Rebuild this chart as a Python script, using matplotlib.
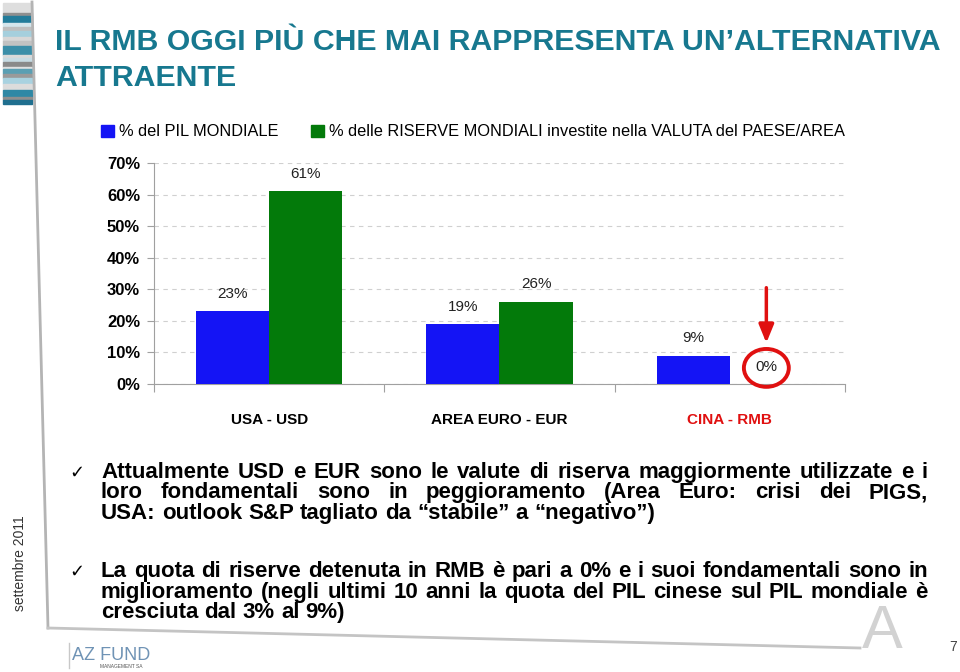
import matplotlib
matplotlib.use("Agg")
import matplotlib.pyplot as plt
from matplotlib.patches import Rectangle, Ellipse, Patch
from matplotlib.lines import Line2D
import numpy as np

# dati del grafico
categorie = ["USA - USD", "AREA EURO - EUR", "CINA - RMB"]
pil_mondiale = [23, 19, 9]
riserve_mondiali = [61, 26, 0]
etichette_y = ["0%", "10%", "20%", "30%", "40%", "50%", "60%", "70%"]
legenda = ["% del PIL MONDIALE",
           "% delle RISERVE MONDIALI investite nella VALUTA del PAESE/AREA"]

titolo = ["IL RMB OGGI PIÙ CHE MAI RAPPRESENTA UN\u2019ALTERNATIVA", "ATTRAENTE"]
punto1 = ["Attualmente USD e EUR sono le valute di riserva maggiormente utilizzate e i",
          "loro fondamentali sono in peggioramento (Area Euro: crisi dei PIGS,",
          "USA: outlook S&P tagliato da \u201cstabile\u201d a \u201cnegativo\u201d)"]
punto2 = ["La quota di riserve detenuta in RMB è pari a 0% e i suoi fondamentali sono in",
          "miglioramento (negli ultimi 10 anni la quota del PIL cinese sul PIL mondiale è",
          "cresciuta dal 3% al 9%)"]

W, H = 960, 672
BLU = "#1414f5"
VERDE = "#037a0a"
ROSSO = "#e01010"
TEAL = "#17788f"
TITLE_FONT = ["Liberation Sans Narrow", "Liberation Sans", "DejaVu Sans"]
FONT = ["Liberation Sans", "DejaVu Sans"]


def fx(px):
    return px / W


def fy(py):
    return 1 - py / H


fig = plt.figure(figsize=(9.6, 6.72), dpi=100)
fig.patch.set_facecolor("white")

# decorazione a strisce in alto a sinistra
strisce = [(3, 13, '#dedede'), (13, 16, '#8f8f8f'), (16, 23, '#237c9a'), (23, 27, '#d5e6ec'),
           (27, 31, '#bfbfbf'), (31, 37, '#a5cfdd'), (37, 41, '#d7d7d7'), (41, 46, '#c2c2c2'),
           (46, 55, '#3b8ea8'), (55, 58, '#d9d9d9'), (58, 62, '#c7dbe3'), (62, 67, '#8a8a8a'),
           (67, 69, '#e0e0e0'), (69, 74, '#5b9fb3'), (74, 78, '#9a9a9a'), (78, 84, '#a9d2e0'),
           (84, 90, '#dcdcdc'), (90, 97, '#2f88a5'), (97, 100, '#8f8f8f'), (100, 104, '#1f6f8f')]
for y0, y1, c in strisce:
    fig.patches.append(Rectangle((fx(3), fy(y1)), fx(29), (y1 - y0) / H,
                                 transform=fig.transFigure, color=c, zorder=0))
fig.add_artist(Line2D([fx(32), fx(48)], [fy(2), fy(628)], color="#b4b4b4", lw=2))
fig.add_artist(Line2D([fx(48), fx(860)], [fy(628), fy(648)], color="#c4c4c4", lw=2))

# titolo
for i, riga in enumerate(titolo):
    fig.text(fx(55), fy(42 + 36 * i), riga, family=TITLE_FONT, weight="bold",
             fontsize=21.8, color=TEAL, va="center", ha="left")

# grafico a barre
ax = fig.add_axes([fx(154), fy(384), fx(845) - fx(154), (384 - 163) / H])
x = np.arange(len(categorie))
w = 0.317
b1 = ax.bar(x - w / 2, pil_mondiale, w, color=BLU, zorder=3)
b2 = ax.bar(x + w / 2, riserve_mondiali, w, color=VERDE, zorder=3)
for bars, vals in ((b1, pil_mondiale), (b2, riserve_mondiali)):
    for r, v in zip(bars, vals):
        ax.annotate(f"{v}%", (r.get_x() + r.get_width() / 2, v), xytext=(0, 7.5),
                    textcoords="offset points", ha="center", va="bottom",
                    family=FONT, fontsize=11, color="#222222")

ax.set_xlim(-0.5, 2.5)
ax.set_ylim(0, 70)
ax.set_yticks(range(0, 71, 10))
ax.set_yticklabels(etichette_y, family=FONT, weight="bold", fontsize=12)
ax.set_xticks([-0.5, 0.5, 1.5, 2.5])
ax.set_xticklabels([])
ax.set_xticks(x, minor=True)
ax.set_xticklabels(categorie, minor=True, family=FONT, weight="bold", fontsize=11)
ax.tick_params(axis="x", which="minor", length=0, pad=21)
ax.tick_params(axis="x", which="major", length=6, color="#a0a0a0")
ax.tick_params(axis="y", length=5, color="#a0a0a0", pad=5)
ax.get_xticklabels(minor=True)[2].set_color(ROSSO)
for s in ("top", "right"):
    ax.spines[s].set_visible(False)
for s in ("left", "bottom"):
    ax.spines[s].set_color("#a0a0a0")
ax.grid(axis="y", color="#d0d0d0", linestyle=(0, (4, 4)), lw=0.8, zorder=0)

# freccia e cerchio rossi sulla barra a 0%
xr = 2 + w / 2
ax.annotate("", xy=(xr, 13.0), xytext=(xr, 30.5),
            arrowprops=dict(arrowstyle="-|>,head_width=0.45,head_length=1.1",
                            color=ROSSO, lw=2.5, shrinkA=0, shrinkB=0))
ax.add_patch(Ellipse((xr, 5.1), 0.195, 12.0, fill=False, edgecolor=ROSSO,
                     lw=2.8, zorder=5, clip_on=False))

# legenda
fig.legend([Patch(color=BLU), Patch(color=VERDE)], legenda, loc="center left",
           bbox_to_anchor=(fx(86), fy(132)), ncol=2, frameon=False,
           handlelength=0.8, handleheight=0.8, handletextpad=0.3, columnspacing=2.0,
           prop={"family": FONT, "size": 11.8})

# testo puntato giustificato: una parola alla volta
renderer = fig.canvas.get_renderer()
X0, X1 = 101, 928
FS = 16


def larghezza(s):
    t = fig.text(0, 0, s, family=FONT, weight="bold", fontsize=FS)
    wd = t.get_window_extent(renderer).width
    t.remove()
    return wd


SPAZIO = larghezza("x x") - larghezza("xx")


def riga_giustificata(riga, py, giustifica):
    parole = riga.split(" ")
    larghezze = [larghezza(p) for p in parole]
    if giustifica:
        gap = (X1 - X0 - sum(larghezze)) / (len(parole) - 1)
    else:
        gap = SPAZIO
    pos = X0
    # linea di base su pixel intero (con un piccolo margine per l'arrotondamento)
    yb = fy(round(py) + 0.25)
    for p, lw in zip(parole, larghezze):
        fig.text(fx(pos), yb, p, family=FONT, weight="bold", fontsize=FS,
                 va="baseline", ha="left")
        pos += lw + gap


for righe, y0 in ((punto1, 478), (punto2, 577)):
    fig.text(fx(69), fy(y0), "\u2713", family=["DejaVu Sans"], fontsize=13,
             va="baseline", ha="left")
    for i, riga in enumerate(righe):
        riga_giustificata(riga, y0 + 20.5 * i, i < len(righe) - 1)

# piè di pagina
fig.text(fx(20), fy(563), "settembre 2011", rotation=90, family=FONT, fontsize=10,
         color="#333333", ha="center", va="center")
fig.text(fx(72), fy(655), "AZ FUND", family=FONT, fontsize=13, color="#6f93b5",
         ha="left", va="center")
fig.text(fx(100), fy(667), "MANAGEMENT SA", family=FONT, fontsize=3.5, color="#555555",
         ha="left", va="center")
fig.add_artist(Line2D([fx(69), fx(69)], [fy(643), fy(668)], color="#c8c8c8", lw=1))
fig.text(fx(882), fy(632), "A", family=FONT, fontsize=44, color="#d2d2d2",
         ha="center", va="center")
fig.text(fx(953), fy(647), "7", family=FONT, fontsize=10, color="#444444",
         ha="center", va="center")

fig.savefig("out.png", dpi=100, facecolor="white")
